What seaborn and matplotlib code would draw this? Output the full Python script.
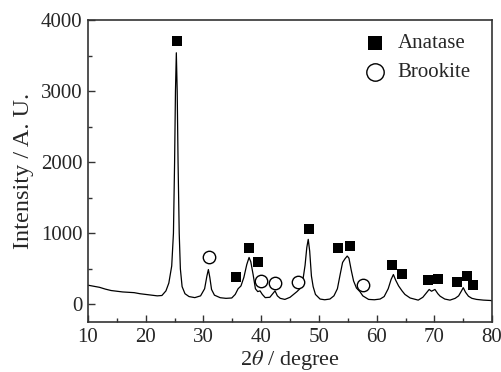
import matplotlib
matplotlib.use("Agg")
import matplotlib.pyplot as plt
from matplotlib.ticker import MultipleLocator
import seaborn as sns
import pandas as pd

# XRD pattern
two_theta = [10.0, 11.0, 12.0, 13.0, 14.0, 15.0, 16.0, 17.0, 18.0, 19.0, 20.0, 21.0, 22.0, 22.8,
             23.5, 24.0, 24.5, 24.8, 25.0, 25.15, 25.3, 25.45, 25.6, 25.8, 26.0, 26.3, 26.8,
             27.5, 28.5, 29.5, 30.2, 30.6, 30.85, 31.1, 31.4, 31.9, 32.9, 33.9, 34.9, 35.5,
             36.0, 36.5, 37.0, 37.5, 37.9, 38.2, 38.6, 39.0, 39.4, 39.8, 40.2, 40.7, 41.5,
             42.0, 42.4, 42.8, 43.3, 44.1, 45.0, 45.6, 46.2, 46.7, 47.2, 47.6, 47.9, 48.15,
             48.4, 48.7, 49.0, 49.4, 50.2, 51.0, 51.9, 52.6, 53.2, 53.7, 54.1, 54.5, 54.9,
             55.2, 55.6, 56.0, 56.5, 57.1, 57.6, 58.6, 59.6, 60.6, 61.3, 62.0, 62.5, 62.9,
             63.3, 63.8, 64.4, 64.9, 65.8, 67.2, 68.0, 68.5, 69.1, 69.5, 70.1, 70.6, 71.0,
             71.8, 72.7, 73.6, 74.2, 74.7, 75.0, 75.4, 75.9, 76.5, 77.3, 78.5, 79.7, 80.0]
intensity = [270, 255, 240, 215, 195, 185, 175, 170, 165, 150, 140, 130, 120, 125,
             190, 300, 540, 1000, 2000, 3000, 3540, 3000, 2000, 1000, 500, 250, 150,
             110, 95, 120, 220, 400, 490, 380, 210, 130, 94, 85, 90, 140,
             220, 260, 380, 560, 660, 600, 420, 220, 180, 190, 140, 95, 100,
             150, 190, 120, 85, 70, 100, 140, 180, 220, 330, 550, 800, 915,
             750, 400, 250, 140, 75, 65, 75, 120, 220, 430, 590, 640, 680,
             650, 480, 330, 230, 180, 120, 70, 65, 75, 110, 220, 350, 420,
             340, 260, 190, 140, 90, 60, 100, 150, 210, 185, 210, 150, 115,
             75, 60, 85, 120, 190, 235, 170, 115, 85, 70, 60, 55, 50]

# Phase markers
anatase_x = [25.37, 35.65, 37.9, 39.46, 48.24, 53.38, 55.46, 62.74, 64.4, 68.97, 70.6, 74.0, 75.6, 76.65]
anatase_y = [3703, 384, 793, 596, 1060, 798, 822, 549, 422, 338, 352, 310, 394, 272]
brookite_x = [30.97, 39.98, 42.4, 46.44, 57.7]
brookite_y = [662, 328, 300, 314, 267]

sns.set_style("ticks")
plt.rcParams['font.family'] = ['Liberation Serif', 'DejaVu Serif']
plt.rcParams['mathtext.fontset'] = 'stix'
plt.rcParams['xtick.direction'] = 'in'
plt.rcParams['ytick.direction'] = 'in'

fig = plt.figure(figsize=(5.02, 3.72), dpi=100)
ax = fig.add_axes([0.1753, 0.134, 0.805, 0.812])

df = pd.DataFrame({"x": two_theta, "y": intensity})
sns.lineplot(data=df, x="x", y="y", ax=ax, color="black", linewidth=0.9)

dfa = pd.DataFrame({"x": anatase_x, "y": anatase_y})
dfb = pd.DataFrame({"x": brookite_x, "y": brookite_y})
sns.scatterplot(data=dfa, x="x", y="y", ax=ax, marker="s", s=55, color="black",
                edgecolor="black", linewidth=0, label="Anatase", zorder=3)
sns.scatterplot(data=dfb, x="x", y="y", ax=ax, marker="o", s=80, facecolor="white",
                edgecolor="black", linewidth=1.0, label="Brookite", zorder=3)

ax.set_xlim(10, 80)
ax.set_ylim(-250, 4000)
ax.xaxis.set_major_locator(MultipleLocator(10))
ax.xaxis.set_minor_locator(MultipleLocator(5))
ax.yaxis.set_major_locator(MultipleLocator(1000))
ax.yaxis.set_minor_locator(MultipleLocator(500))
ax.tick_params(which='major', length=5, width=1, labelsize=15, top=False, right=False,
               color='#333333', pad=4)
ax.tick_params(which='minor', length=3, width=1, top=False, right=False, color='#333333')
for s in ax.spines.values():
    s.set_linewidth(1.2)
    s.set_color('#333333')

ax.set_xlabel(r"2$\theta$ / degree", fontsize=16, labelpad=1)
ax.set_ylabel("Intensity / A. U.", fontsize=17.5, labelpad=5)

ax.legend(loc="upper left", bbox_to_anchor=(0.645, 0.997), frameon=False, fontsize=15,
          handlelength=1.3, handletextpad=0.45, labelspacing=0.45, borderaxespad=0.2,
          markerscale=1.4)

fig.savefig("out.png", dpi=100)
